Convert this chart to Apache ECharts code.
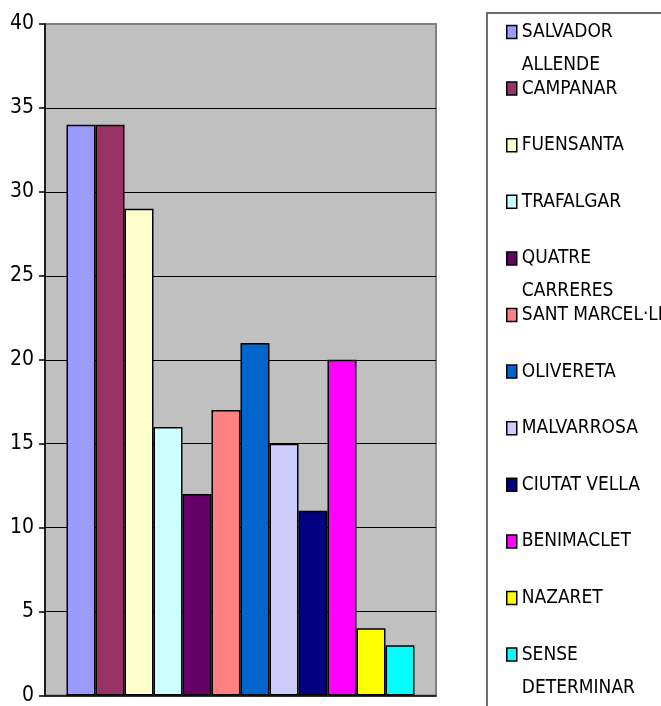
<!DOCTYPE html>
<html>
<head>
<meta charset="utf-8">
<script src="https://cdn.jsdelivr.net/npm/echarts@6/dist/echarts.min.js"></script>
<style>
html,body{margin:0;padding:0;background:#fff;}
#chart{width:661px;height:706px;}
</style>
</head>
<body>
<div id="chart"></div>
<script>
// ---- data ----
const seriesNames = ['SALVADOR ALLENDE','CAMPANAR','FUENSANTA','TRAFALGAR','QUATRE CARRERES','SANT MARCEL·LI','OLIVERETA','MALVARROSA','CIUTAT VELLA','BENIMACLET','NAZARET','SENSE DETERMINAR'];
const legendLabels = ['SALVADOR\nALLENDE','CAMPANAR','FUENSANTA','TRAFALGAR','QUATRE\nCARRERES','SANT MARCEL·LI','OLIVERETA','MALVARROSA','CIUTAT VELLA','BENIMACLET','NAZARET','SENSE\nDETERMINAR'];
const values = [34, 34, 29, 16, 12, 17, 21, 15, 11, 20, 4, 3];
const colors = ['#9999FF','#993366','#FFFFCC','#CCFFFF','#660066','#FF8080','#0066CC','#CCCCFF','#000080','#FF00FF','#FFFF00','#00FFFF'];
const yTicks = [0, 5, 10, 15, 20, 25, 30, 35, 40];

const FONT = "'Liberation Sans Narrow','Arial Narrow','DejaVu Sans Condensed',sans-serif";
const LH = 33;

const chart = echarts.init(document.getElementById('chart'), null, {renderer:'canvas'});

const series = seriesNames.map((n, i) => ({
  name: n,
  type: 'bar',
  data: [values[i]],
  barGap: '0%',
  barCategoryGap: '11%',
  itemStyle: { color: colors[i], borderColor: '#000', borderWidth: 1.5 },
  emphasis: { disabled: true },
  animation: false
}));

const legends = seriesNames.map((n, i) => {
  const twoLine = legendLabels[i].indexOf('\n') >= 0;
  const iconCenter = 32 + i * 56.6;
  // two-line labels get an empty leading line so the first real line sits on the icon
  const label = twoLine ? ' \n' + legendLabels[i] : legendLabels[i];
  const top = twoLine ? iconCenter - 1.5 * LH : iconCenter - LH / 2;
  return {
    data: [n],
    orient: 'vertical',
    left: 506,
    top: top,
    padding: 0,
    itemWidth: 10,
    itemHeight: 13,
    itemGap: 0,
    icon: 'rect',
    selectedMode: false,
    itemStyle: { borderColor: '#000', borderWidth: 1.5 },
    formatter: () => label,
    textStyle: {
      fontFamily: FONT,
      fontSize: 19,
      color: '#000',
      lineHeight: LH
    }
  };
});

chart.setOption({
  animation: false,
  backgroundColor: '#fff',
  grid: {
    left: 45, right: 225, top: 24, bottom: 3,
    show: true,
    backgroundColor: '#C0C0C0',
    borderColor: '#808080',
    borderWidth: 2
  },
  legend: legends,
  graphic: [{
    type: 'rect',
    z: -1,
    shape: { x: 487, y: 13, width: 220, height: 720 },
    style: { fill: '#fff', stroke: '#6e6e6e', lineWidth: 2 }
  }],
  xAxis: {
    type: 'category',
    data: [''],
    axisLine: { show: true, lineStyle: { color: '#000', width: 1.5 } },
    axisTick: { show: false },
    axisLabel: { show: false },
    splitLine: { show: false }
  },
  yAxis: {
    type: 'value',
    min: yTicks[0],
    max: yTicks[yTicks.length - 1],
    interval: 5,
    axisLine: { show: true, lineStyle: { color: '#000', width: 1.5 } },
    axisTick: { show: true, inside: false, length: 6, lineStyle: { color: '#000', width: 1.5 } },
    axisLabel: { fontFamily: FONT, fontSize: 21, color: '#000', margin: 11 },
    splitLine: { show: true, showMinLine: false, showMaxLine: false, lineStyle: { color: '#000', width: 1 } }
  },
  series: series
});
</script>
</body>
</html>
